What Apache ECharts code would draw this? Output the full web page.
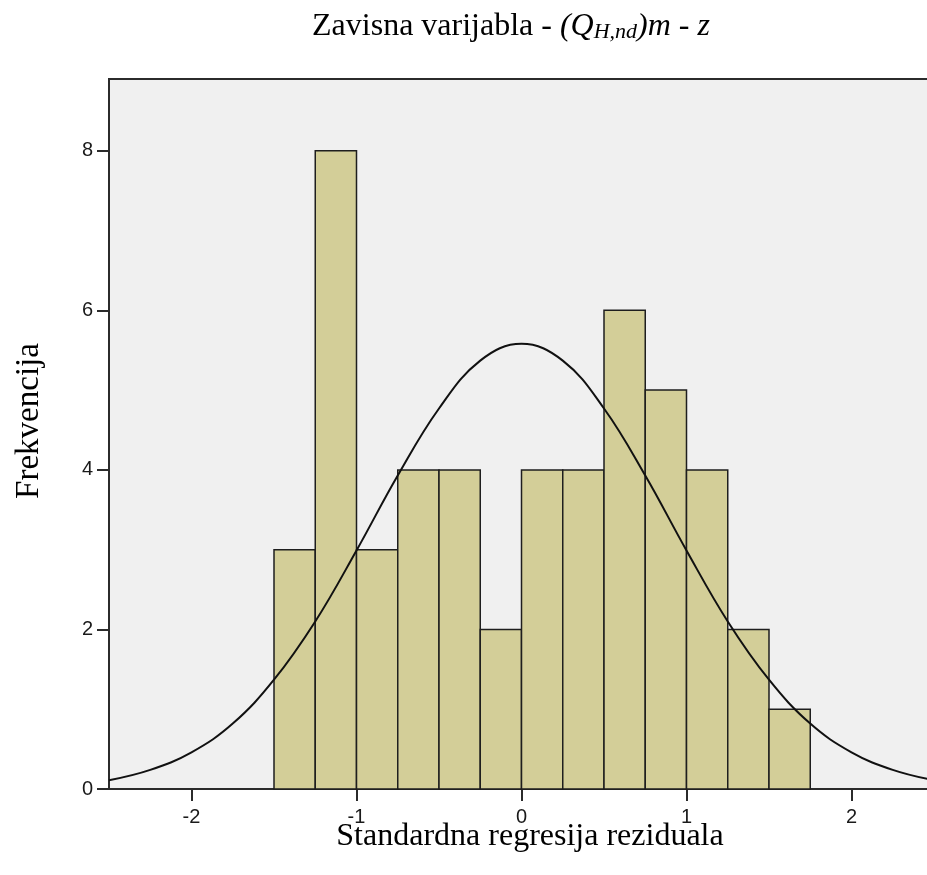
<!DOCTYPE html>
<html>
<head>
<meta charset="utf-8">
<title>Histogram</title>
<script src="https://cdn.jsdelivr.net/npm/echarts@6/dist/echarts.min.js"></script>
<style>
  html, body { margin: 0; padding: 0; background: #fff; }
  #chart { width: 927px; height: 875px; }
</style>
</head>
<body>
<div id="chart"></div>
<script>
// histogram bins (lower edge) and counts
var binStart = [-1.5, -1.25, -1, -0.75, -0.5, -0.25, 0, 0.25, 0.5, 0.75, 1, 1.25, 1.5];
var binWidth = 0.25;
var counts = [3, 8, 3, 4, 4, 2, 4, 4, 6, 5, 4, 2, 1];

// normal curve
var curveX = [-2.5, -2.25, -2, -1.75, -1.5, -1.25, -1, -0.75, -0.5, -0.25, 0,
  0.25, 0.5, 0.75, 1, 1.25, 1.5, 1.75, 2, 2.25, 2.5];
var curveY = [0.11, 0.24, 0.46, 0.82, 1.37, 2.10, 2.99, 3.93, 4.77, 5.37, 5.58,
  5.37, 4.77, 3.93, 2.99, 2.10, 1.37, 0.82, 0.46, 0.24, 0.11];

var xTicks = [-2, -1, 0, 1, 2];
var yTicks = [0, 2, 4, 6, 8];

var serif = '"Liberation Serif", "Times New Roman", serif';
var sans = '"Liberation Sans", Arial, sans-serif';

var chart = echarts.init(document.getElementById('chart'));

var bins = binStart.map(function (x0, i) {
  return [x0, x0 + binWidth, counts[i]];
});
var curve = curveX.map(function (x, i) {
  return [x, curveY[i]];
});

chart.setOption({
  animation: false,
  grid: {
    left: 109,
    top: 79,
    bottom: 86,
    width: 825, // plot runs past the right edge of the picture
    outerBoundsMode: 'none',
    show: true,
    backgroundColor: '#f0f0f0',
    borderColor: '#2b2b2b',
    borderWidth: 2
  },
  xAxis: {
    type: 'value',
    min: -2.5,
    max: 2.5,
    axisLine: { show: true, onZero: false, lineStyle: { color: '#2b2b2b', width: 2 } },
    axisTick: { show: true, length: 12, customValues: xTicks, lineStyle: { color: '#2b2b2b', width: 2 } },
    axisLabel: { customValues: xTicks, margin: 18, color: '#1a1a1a', fontSize: 20, fontFamily: sans },
    splitLine: { show: false }
  },
  yAxis: {
    type: 'value',
    min: 0,
    max: 8.9,
    axisLine: { show: true, onZero: false, lineStyle: { color: '#2b2b2b', width: 2 } },
    axisTick: { show: true, length: 12, customValues: yTicks, lineStyle: { color: '#2b2b2b', width: 2 } },
    axisLabel: { customValues: yTicks, margin: 16, color: '#1a1a1a', fontSize: 20, fontFamily: sans },
    splitLine: { show: false }
  },
  graphic: [
    {
      type: 'text',
      x: 511,
      y: 27,
      style: {
        text: '{n|Zavisna varijabla - }{i|(Q}{s|H,nd}{i|)m}{n| - }{i|z}',
        align: 'center',
        verticalAlign: 'middle',
        fill: '#000',
        rich: {
          n: { fontFamily: serif, fontSize: 32, fill: '#000' },
          i: { fontFamily: serif, fontSize: 32, fontStyle: 'italic', fill: '#000' },
          s: { fontFamily: serif, fontSize: 22, fontStyle: 'italic', fill: '#000', lineHeight: 12, verticalAlign: 'bottom' }
        }
      }
    },
    {
      type: 'text',
      x: 530,
      y: 837,
      style: {
        text: 'Standardna regresija reziduala',
        font: '32px ' + serif,
        fill: '#000',
        align: 'center',
        verticalAlign: 'middle'
      }
    },
    {
      type: 'text',
      x: 29,
      y: 421,
      rotation: Math.PI / 2,
      style: {
        text: 'Frekvencija',
        font: '33px ' + serif,
        fill: '#000',
        align: 'center',
        verticalAlign: 'middle'
      }
    }
  ],
  series: [
    {
      type: 'custom',
      data: bins,
      encode: { x: [0, 1], y: 2 },
      renderItem: function (params, api) {
        var p0 = api.coord([api.value(0), api.value(2)]);
        var p1 = api.coord([api.value(1), 0]);
        return {
          type: 'rect',
          shape: { x: p0[0], y: p0[1], width: p1[0] - p0[0], height: p1[1] - p0[1] },
          style: { fill: '#d3ce98', stroke: '#1e1e1e', lineWidth: 1.5 }
        };
      },
      z: 2
    },
    {
      type: 'line',
      data: curve,
      smooth: 0.4,
      showSymbol: false,
      lineStyle: { color: '#111', width: 2 },
      z: 3
    }
  ]
});
</script>
</body>
</html>
